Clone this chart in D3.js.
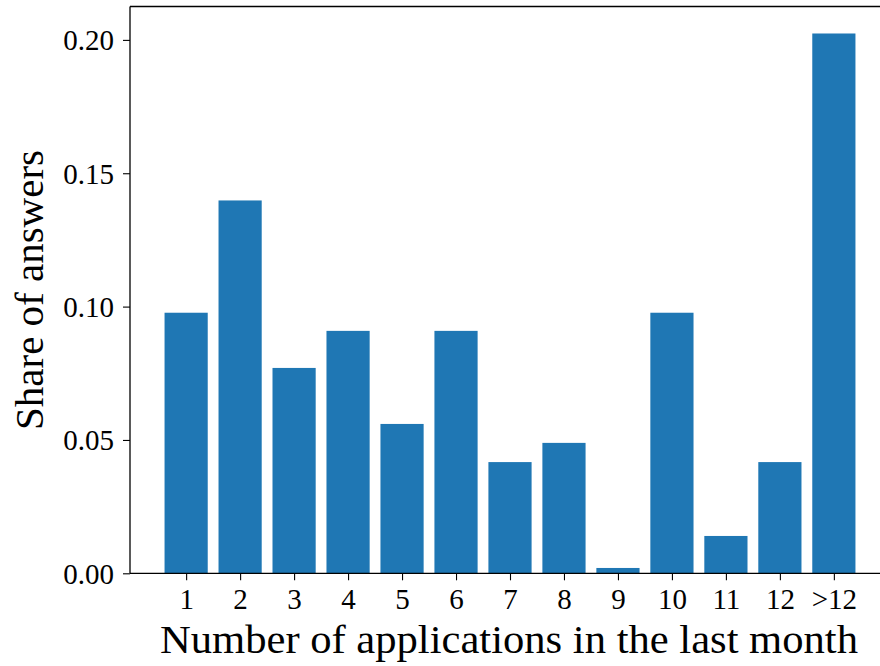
<!DOCTYPE html>
<html>
<head>
<meta charset="utf-8">
<script src="https://cdn.jsdelivr.net/npm/d3@7"></script>
<style>
  html, body { margin: 0; padding: 0; background: #fff; }
  svg { display: block; }
  text { font-family: "Liberation Serif", "Times New Roman", serif; fill: #000; }
</style>
</head>
<body>
<div id="chart"></div>
<script>
const categories = ["1","2","3","4","5","6","7","8","9","10","11","12",">12"];
const shares = [0.0977, 0.1398, 0.0770, 0.0909, 0.0560, 0.0909, 0.0417, 0.0489, 0.0020, 0.0977, 0.0140, 0.0417, 0.2024];
const yTicks = [0.00, 0.05, 0.10, 0.15, 0.20];
const xLabel = "Number of applications in the last month";
const yLabel = "Share of answers";

const W = 880, H = 666;
const mLeft = 130, mRight = 890, mTop = 6.5, mBottom = 573.3;

const svg = d3.select("#chart").append("svg").attr("width", W).attr("height", H);

// matplotlib-like linear x with bar width 0.8 and 5% margins
const n = categories.length;
const xmin = -0.4 - 0.05 * (n - 1 + 0.8), xmax = (n - 1) + 0.4 + 0.05 * (n - 1 + 0.8);
const x = d3.scaleLinear().domain([xmin, xmax]).range([mLeft, mRight]);
const ymax = d3.max(shares) * 1.05;
const y = d3.scaleLinear().domain([0, ymax]).range([mBottom, mTop]);

svg.append("g").selectAll("rect").data(shares).join("rect")
  .attr("x", (d, i) => x(i - 0.4))
  .attr("width", (d, i) => x(i + 0.4) - x(i - 0.4))
  .attr("y", d => y(d))
  .attr("height", d => y(0) - y(d))
  .attr("fill", "#1f77b4");

// axes
const xAxis = d3.axisBottom(x).tickValues(d3.range(n)).tickFormat(i => categories[i])
  .tickSize(7).tickPadding(6);
const gx = svg.append("g").attr("transform", `translate(0,${mBottom})`).call(xAxis);
gx.select(".domain").remove();
gx.selectAll(".tick line").attr("stroke", "#000").attr("stroke-width", 1.1);
gx.selectAll(".tick text").attr("font-size", 29).attr("font-family", "Liberation Serif").attr("dy", "0.78em");

const yAxis = d3.axisLeft(y).tickValues(yTicks).tickFormat(d3.format(".2f"))
  .tickSize(7).tickPadding(9);
const gy = svg.append("g").attr("transform", `translate(${mLeft},0)`).call(yAxis);
gy.select(".domain").remove();
gy.selectAll(".tick line").attr("stroke", "#000").attr("stroke-width", 1.1);
gy.selectAll(".tick text").attr("font-size", 29).attr("font-family", "Liberation Serif").attr("dy", "0.34em");

// spines
const sp = svg.append("g").attr("stroke", "#000").attr("stroke-width", 1.3).attr("fill", "none");
sp.append("line").attr("x1", mLeft).attr("x2", mLeft).attr("y1", mTop).attr("y2", mBottom);
sp.append("line").attr("x1", mLeft).attr("x2", mRight).attr("y1", mBottom).attr("y2", mBottom);
sp.append("line").attr("x1", mLeft).attr("x2", mRight).attr("y1", mTop).attr("y2", mTop);
sp.append("line").attr("x1", mRight).attr("x2", mRight).attr("y1", mTop).attr("y2", mBottom);

// axis labels
svg.append("text")
  .attr("x", 509).attr("y", 653)
  .attr("text-anchor", "middle")
  .attr("font-size", 41)
  .attr("textLength", 698).attr("lengthAdjust", "spacingAndGlyphs")
  .text(xLabel);

svg.append("text")
  .attr("transform", `translate(43,290) rotate(-90)`)
  .attr("text-anchor", "middle")
  .attr("font-size", 41)
  .attr("textLength", 280).attr("lengthAdjust", "spacingAndGlyphs")
  .text(yLabel);
</script>
</body>
</html>
